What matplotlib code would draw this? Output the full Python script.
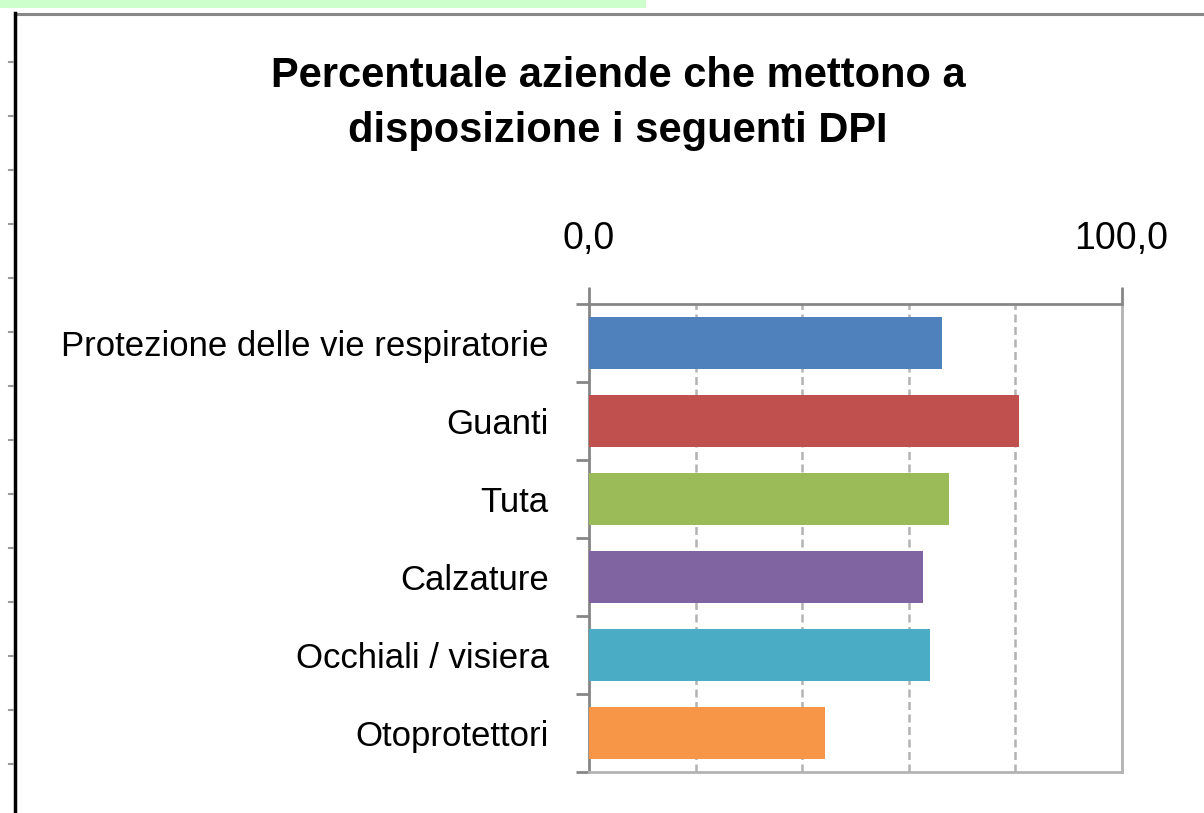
import numpy as np
import matplotlib
matplotlib.use('Agg')
import matplotlib.pyplot as plt
from matplotlib.lines import Line2D
from matplotlib.patches import Rectangle

categories = ['Protezione delle vie respiratorie', 'Guanti', 'Tuta', 'Calzature',
              'Occhiali / visiera', 'Otoprotettori']
values = [66.3, 80.8, 67.6, 62.7, 64.0, 44.3]
bar_colors = ['#4F81BD', '#C0504D', '#9BBB59', '#8064A2', '#4BACC6', '#F79646']
x_ticks = [0, 100]
x_tick_labels = ['0,0', '100,0']
grid_ticks = [20, 40, 60, 80]
title = 'Percentuale aziende che mettono a\ndisposizione i seguenti DPI'

plt.rcParams['font.family'] = ['Liberation Sans', 'DejaVu Sans']

W, H = 1204, 813
fig = plt.figure(figsize=(W / 100, H / 100), dpi=100)
fig.patch.set_facecolor('white')

# spreadsheet leftovers around the chart
fig.patches.append(Rectangle((0, 1 - 8 / H), 646 / W, 8 / H, transform=fig.transFigure,
                             facecolor='#CCFFCC', edgecolor='none'))
fig.lines.append(Line2D([15 / W, 1], [1 - 14.5 / H] * 2, transform=fig.transFigure,
                        color='#888888', lw=2.2))
fig.lines.append(Line2D([14.5 / W] * 2, [0, 1 - 13 / H], transform=fig.transFigure,
                        color='black', lw=2.5))
for yy in range(62, 813, 54):
    fig.lines.append(Line2D([9 / W, 13 / W], [1 - yy / H] * 2, transform=fig.transFigure,
                            color='#9a9a9a', lw=1.5))

ax = fig.add_axes([589 / W, 1 - 772 / H, (1121.5 - 589) / W, (772 - 304) / H])
pos = np.arange(len(categories))
ax.barh(pos, values, height=0.66, color=bar_colors, zorder=3)
ax.set_xlim(0, 100)
ax.set_ylim(len(categories) - 0.5, -0.5)

ax.xaxis.tick_top()
ax.set_xticks(x_ticks)
ax.set_xticklabels(x_tick_labels)
ax.set_xticks(grid_ticks, minor=True)
ax.tick_params(axis='x', which='major', length=12, width=2, color='#868686',
               pad=22, labelsize=27)
ax.tick_params(axis='x', which='minor', length=0)
ax.grid(which='minor', axis='x', color='#b3b3b3', lw=1.8, ls=(0, (3.2, 1.8)), zorder=1)

ax.set_yticks(pos)
ax.set_yticklabels(categories)
ax.set_yticks(np.arange(len(categories) + 1) - 0.5, minor=True)
ax.tick_params(axis='y', which='major', length=0, pad=29, labelsize=25)
ax.tick_params(axis='y', which='minor', length=9.5, width=2, color='#868686')

for side in ['top', 'left']:
    ax.spines[side].set_color('#868686')
    ax.spines[side].set_linewidth(2)
for side in ['bottom', 'right']:
    ax.spines[side].set_color('#b3b3b3')
    ax.spines[side].set_linewidth(2)

fig.text(618 / W, 1 - 56 / H, title, ha='center', va='top', fontsize=30,
         fontweight='bold', linespacing=1.48)

fig.savefig('out.png', dpi=100)
